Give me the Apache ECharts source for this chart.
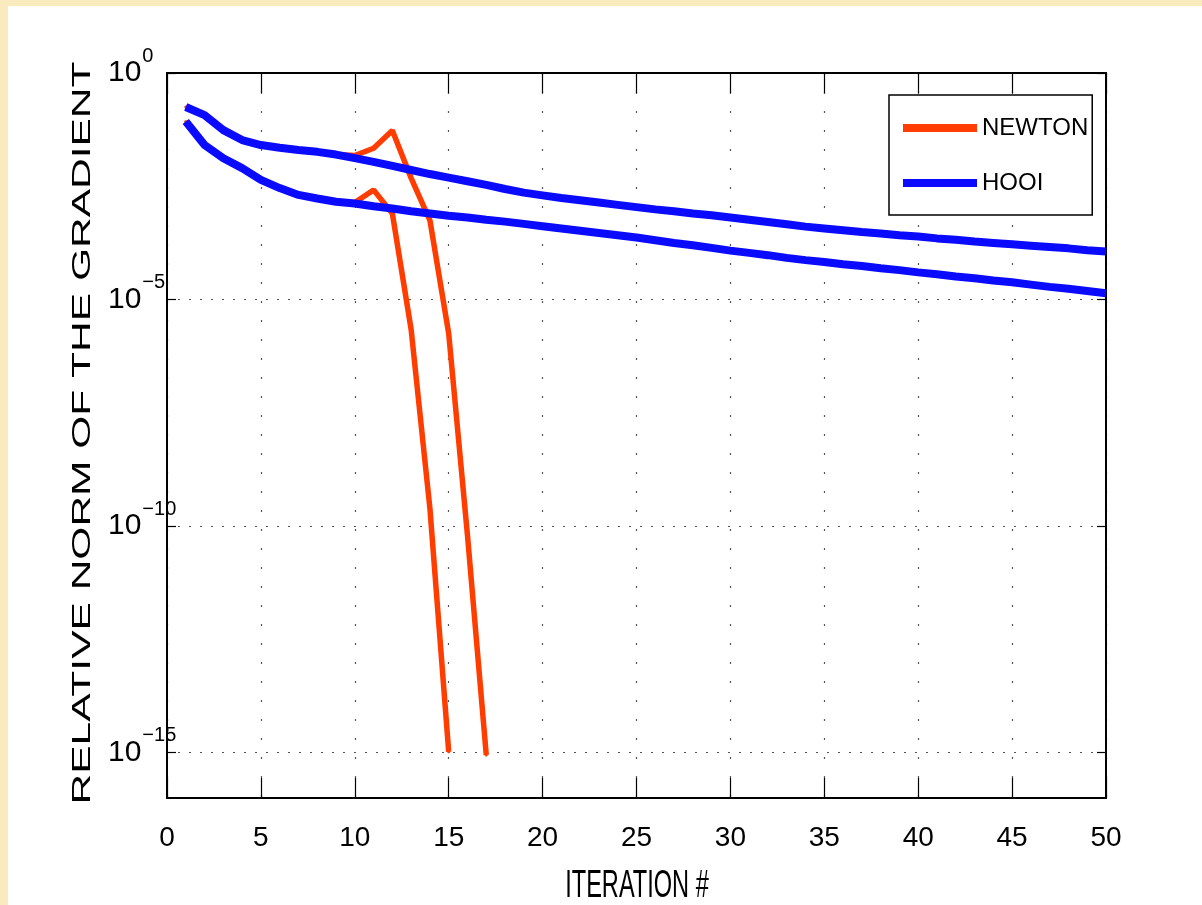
<!DOCTYPE html>
<html>
<head>
<meta charset="utf-8">
<script src="https://cdn.jsdelivr.net/npm/echarts@6/dist/echarts.min.js"></script>
<style>
  html, body { margin: 0; padding: 0; background: #fff; }
  #chart { width: 1202px; height: 905px; }
</style>
</head>
<body>
<div id="chart"></div>
<script>
// values are log10 of the relative gradient norm, one per iteration (1, 2, 3 ...)
var hooiSlowLog = [
    -0.75, -0.93, -1.26, -1.48, -1.59, -1.65, -1.70, -1.74, -1.80, -1.88,
    -1.96, -2.05, -2.14, -2.23, -2.31, -2.39, -2.47, -2.56, -2.64, -2.70,
    -2.76, -2.81, -2.86, -2.91, -2.96, -3.01, -3.05, -3.10, -3.14, -3.19,
    -3.24, -3.29, -3.34, -3.39, -3.43, -3.47, -3.51, -3.54, -3.58, -3.61,
    -3.65, -3.68, -3.72, -3.75, -3.78, -3.81, -3.84, -3.87, -3.91, -3.94
];
var hooiFastLog = [
    -1.07, -1.59, -1.88, -2.10, -2.36, -2.54, -2.69, -2.77, -2.84, -2.88,
    -2.94, -2.99, -3.05, -3.10, -3.15, -3.19, -3.24, -3.28, -3.33, -3.38,
    -3.43, -3.48, -3.53, -3.58, -3.63, -3.69, -3.75, -3.80, -3.86, -3.92,
    -3.97, -4.02, -4.08, -4.13, -4.17, -4.22, -4.26, -4.31, -4.35, -4.40,
    -4.44, -4.49, -4.53, -4.58, -4.62, -4.67, -4.72, -4.76, -4.81, -4.86
];
var newtonSlowLog = [
    -0.75, -0.93, -1.26, -1.48, -1.59, -1.65, -1.70, -1.74, -1.80, -1.82,
    -1.66, -1.27, -2.32, -3.25, -5.75, -10.2, -15.05
];
var newtonFastLog = [
    -1.07, -1.59, -1.88, -2.10, -2.36, -2.54, -2.69, -2.77, -2.84, -2.86,
    -2.58, -3.10, -5.66, -9.61, -14.98
];
var yTicks = [-15, -10, -5, 0];

var RED = '#ff3d00';
var BLUE = '#0a0aff';
var FONT = '"Liberation Sans", Arial, sans-serif';

function pairs(arr) {
    return arr.map(function (v, i) { return [i + 1, v]; });
}

function yLabel(v) {
    var e = v === 0 ? '0' : '\u2212' + (-v);
    return '{b|10}{s|' + e + '}';
}

var chart = echarts.init(document.getElementById('chart'));

var opts = {
    animation: false,
    backgroundColor: '#fff',
    grid: { left: 167, top: 73, right: 96, bottom: 107 },
    legend: {
        orient: 'vertical',
        left: 889,
        top: 95,
        padding: [21, 4, 20, 14],
        itemGap: 31,
        itemWidth: 74,
        itemHeight: 8,
        backgroundColor: '#fff',
        borderColor: '#000',
        borderWidth: 1.5,
        borderRadius: 0,
        textStyle: { fontFamily: FONT, fontSize: 24, color: '#000' },
        data: [
            { name: 'NEWTON', icon: 'rect', itemStyle: { color: RED } },
            { name: 'HOOI', icon: 'rect', itemStyle: { color: BLUE } }
        ]
    },
    xAxis: [
        {
            type: 'value', min: 0, max: 50, interval: 5,
            axisLine: { onZero: false, lineStyle: { color: '#000', width: 2 } },
            axisTick: { inside: true, length: 20, lineStyle: { color: '#000', width: 1.2 } },
            axisLabel: { margin: 26, fontFamily: FONT, fontSize: 28, color: '#000' },
            splitLine: { show: true, lineStyle: { color: '#555', width: 1.2, type: [2, 17] } }
        },
        {
            type: 'value', position: 'top', min: 0, max: 50, interval: 5,
            axisLine: { onZero: false, lineStyle: { color: '#000', width: 2 } },
            axisTick: { inside: true, length: 20, lineStyle: { color: '#000', width: 1.2 } },
            axisLabel: { show: false },
            splitLine: { show: false }
        }
    ],
    yAxis: [
        {
            type: 'value', min: -16, max: 0,
            axisLine: { show: true, onZero: false, lineStyle: { color: '#000', width: 2 } },
            axisTick: { show: true, inside: true, length: 9, customValues: yTicks, lineStyle: { color: '#000', width: 1.2 } },
            axisLabel: {
                customValues: yTicks,
                align: 'left',
                margin: 59,
                formatter: yLabel,
                rich: {
                    b: { fontFamily: FONT, fontSize: 30, color: '#000', lineHeight: 54 },
                    s: { fontFamily: FONT, fontSize: 20, color: '#000', lineHeight: 20, verticalAlign: 'top', padding: [0, 0, 0, 1] }
                }
            },
            splitLine: { show: true, lineStyle: { color: '#555', width: 1.2, type: [2, 9] } }
        },
        {
            type: 'value', position: 'right', min: -16, max: 0,
            axisLine: { show: true, onZero: false, lineStyle: { color: '#000', width: 2 } },
            axisTick: { show: true, inside: true, length: 9, customValues: yTicks, lineStyle: { color: '#000', width: 1.2 } },
            axisLabel: { show: false },
            splitLine: { show: false }
        }
    ],
    graphic: [
        { type: 'rect', left: 0, top: 0, shape: { width: 1202, height: 6 }, style: { fill: '#f9ebbd' }, silent: true },
        { type: 'rect', left: 0, top: 0, shape: { width: 8, height: 905 }, style: { fill: '#f9ebbd' }, silent: true },
        {
            type: 'text', x: 83, y: 433, rotation: Math.PI / 2, scaleX: 1.7,
            style: {
                text: 'RELATIVE NORM OF THE GRADIENT',
                font: '25px "Liberation Sans", Arial, sans-serif',
                fill: '#000', textAlign: 'center', textVerticalAlign: 'middle'
            }
        },
        {
            type: 'text', x: 637, y: 887, scaleX: 0.62,
            style: {
                text: 'ITERATION #',
                font: '38px "Liberation Sans", Arial, sans-serif',
                fill: '#000', textAlign: 'center', textVerticalAlign: 'middle'
            }
        }
    ],
    series: [
        {
            name: 'NEWTON', type: 'line', data: pairs(newtonSlowLog),
            symbol: 'circle', symbolSize: 3, z: 2,
            lineStyle: { color: RED, width: 5.5 }, itemStyle: { color: RED }
        },
        {
            name: 'NEWTON', type: 'line', data: pairs(newtonFastLog),
            symbol: 'circle', symbolSize: 3, z: 2,
            lineStyle: { color: RED, width: 5.5 }, itemStyle: { color: RED }
        },
        {
            name: 'HOOI', type: 'line', data: pairs(hooiSlowLog),
            showSymbol: false, z: 3,
            lineStyle: { color: BLUE, width: 8 }, itemStyle: { color: BLUE }
        },
        {
            name: 'HOOI', type: 'line', data: pairs(hooiFastLog),
            showSymbol: false, z: 3,
            lineStyle: { color: BLUE, width: 8 }, itemStyle: { color: BLUE }
        }
    ]
};

chart.setOption(opts);
</script>
</body>
</html>
